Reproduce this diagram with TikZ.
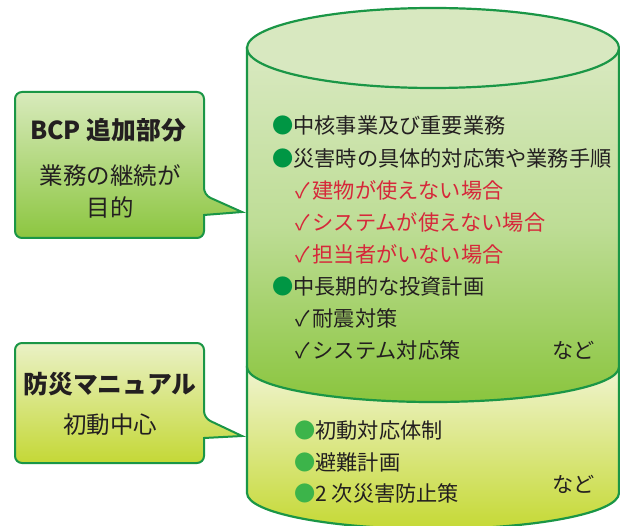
\documentclass[tikz,border=0pt]{standalone}
\usepackage{fontspec}
\setmainfont{Noto Sans CJK JP}
\definecolor{lineg}{RGB}{26,150,70}
\definecolor{topfill}{RGB}{216,232,192}
\definecolor{upTop}{RGB}{217,233,193}
\definecolor{upMid}{RGB}{190,221,150}
\definecolor{upBot}{RGB}{138,197,62}
\definecolor{loTop}{RGB}{240,244,208}
\definecolor{loBot}{RGB}{197,217,53}
\definecolor{boxATop}{RGB}{216,234,188}
\definecolor{boxABot}{RGB}{140,198,64}
\definecolor{boxBTop}{RGB}{234,241,198}
\definecolor{boxBBot}{RGB}{196,216,54}
\definecolor{txt}{RGB}{35,31,32}
\definecolor{redt}{RGB}{214,40,58}
\definecolor{bulA}{RGB}{0,150,68}
\definecolor{bulB}{RGB}{60,180,74}
\tikzset{
  outl/.style={draw=lineg, line width=2.2pt},
  item/.style={anchor=west, inner sep=0pt, text=txt, font=\fontsize{21.2}{22}\selectfont},
  redit/.style={item, text=redt},
  boxhead/.style={inner sep=0pt, text=txt, font=\bfseries\fontsize{24.8}{26}\selectfont},
  boxtxt/.style={inner sep=0pt, text=txt, font=\fontsize{23.5}{24}\selectfont},
}
\newcommand{\bulA}{{\color{bulA}●}}
\newcommand{\bulB}{{\color{bulB}●}}
\newcommand{\chk}{✓\hspace{3pt}}
\begin{document}
\begin{tikzpicture}[x=1pt,y=-1pt]
\clip (0,0) rectangle (620,526);
\fill[white] (0,0) rectangle (620,526);
% lower section of cylinder
\path[outl, top color=loTop, bottom color=loBot]
  (247,367) -- (247,493) arc[start angle=180, end angle=0, x radius=186, y radius=36]
  -- (619,367) -- cycle;
% upper section of cylinder
\path[outl, top color=upTop, bottom color=upBot, middle color=upMid]
  (247,48) -- (247,367) arc[start angle=180, end angle=0, x radius=186, y radius=35]
  -- (619,48) -- cycle;
% top ellipse
\path[outl, fill=topfill] (433,48) ellipse[x radius=186, y radius=40];
% callout A
\path[draw=lineg, line width=2pt, top color=boxATop, bottom color=boxABot, rounded corners=7pt]
  (15,92) -- (204,92) -- (204,195) [sharp corners] -- (242,212) -- (204,215) [rounded corners=7pt] -- (204,238) -- (15,238) -- cycle;
% callout B
\path[draw=lineg, line width=2pt, top color=boxBTop, bottom color=boxBBot, rounded corners=7pt]
  (15,343) -- (204,343) -- (204,418) [sharp corners] -- (242,436) -- (204,438) [rounded corners=7pt] -- (204,463) -- (15,463) -- cycle;
% callout texts
\node[boxhead] (ha) at (108,130) {BCP 追加部分};
\node[boxtxt] (ta1) at (110,176) {業務の継続が};
\node[boxtxt] (ta2) at (110,207) {目的};
\node[boxhead] (hb) at (110,384) {防災マニュアル};
\node[boxtxt] (tb1) at (110,425) {初動中心};
% upper list
\node[item] (u1) at (272,125) {\bulA 中核事業及び重要業務};
\node[item] (u2) at (272,158) {\bulA 災害時の具体的対応策や業務手順};
\node[redit] (u3) at (295,190) {\chk 建物が使えない場合};
\node[redit] (u4) at (295,222) {\chk システムが使えない場合};
\node[redit] (u5) at (295,254) {\chk 担当者がいない場合};
\node[item] (u6) at (272,286) {\bulA 中長期的な投資計画};
\node[item] (u7) at (295,318) {\chk 耐震対策};
\node[item] (u8) at (295,350) {\chk システム対応策};
\node[item] (u9) at (552,350) {など};
% lower list
\node[item] (l1) at (294,430) {\bulB 初動対応体制};
\node[item] (l2) at (294,462) {\bulB 避難計画};
\node[item] (l3) at (294,493) {\bulB 2 次災害防止策};
\node[item] (l4) at (552,484) {など};
\end{tikzpicture}
\end{document}
